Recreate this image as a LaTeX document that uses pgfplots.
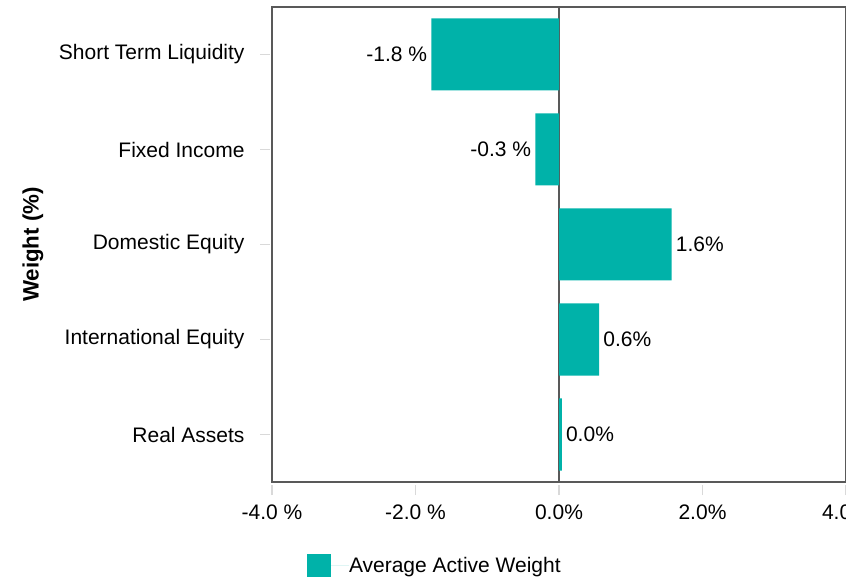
\documentclass[border=0pt]{standalone}
\usepackage{pgfplots}
\pgfplotsset{compat=1.18}
\usepackage{fontspec}
\setmainfont{Liberation Sans}
\definecolor{barteal}{HTML}{00B2A9}
\definecolor{axisgray}{HTML}{595959}
\definecolor{tickgray}{HTML}{D9D9D9}
\begin{document}
\begin{tikzpicture}
\begin{axis}[
  at={(272bp,95bp)}, anchor=south west,
  scale only axis, width=574bp, height=475bp,
  xbar, bar width=72bp, bar shift=0pt,
  xmin=-4, xmax=4, ymin=-0.5, ymax=4.5,
  xtick={-4,-2,0,2,4},
  xticklabels={{-4.0 \%},{-2.0 \%},{0.0\%},{2.0\%},{4.0\%}},
  ytick={0,1,2,3,4},
  yticklabels={Real Assets, International Equity, Domestic Equity, Fixed Income, Short Term Liquidity},
  xtick pos=bottom, ytick pos=left,
  tick align=outside, major tick length=10bp,
  xtick style={draw=tickgray, line width=1.5bp, yshift=-3bp},
  ytick style={draw=tickgray, line width=1.5bp, xshift=-2bp},
  axis line style={draw=axisgray, line width=2bp},
  ticklabel style={font=\fontsize{21bp}{25bp}\selectfont},
  xticklabel style={anchor=center, yshift=-20bp},
  yticklabel style={anchor=east, xshift=-14bp},
  extra x ticks={0}, extra x tick labels={},
  extra x tick style={grid=major, major grid style={draw=axisgray, line width=2bp}, major tick length=0pt},
  ylabel={\textbf{Weight (\%)}},
  ylabel style={font=\fontsize{22.3bp}{26bp}\selectfont, at={(axis description cs:-0.4164,0.5)}, anchor=center},
  legend style={at={(axis description cs:0.061,-0.1758)}, anchor=west, draw=none, fill=none,
    inner sep=0pt, outer sep=0pt, font=\fontsize{21bp}{25bp}\selectfont,
    nodes={inner xsep=0pt}},
  legend image code/.code={\fill[barteal] (0bp,-12bp) rectangle (24bp,12bp); \path (0bp,0bp) -- (42bp,0bp);},
  legend cell align=left,
  nodes near coords,
  point meta=x,
  nodes near coords style={font=\fontsize{21bp}{25bp}\selectfont, text=black, inner xsep=4bp},
]
\addplot[fill=barteal, draw=none,
  nodes near coords={\pgfmathprintnumber[fixed,fixed zerofill,precision=1,assume math mode=true]{\pgfplotspointmeta}\ \%},
  every node near coord/.append style={anchor=east}]
  coordinates {(-1.78,4) (-0.33,3)};
\addlegendentry{Average Active Weight}
\addplot[fill=barteal, draw=none, forget plot,
  nodes near coords={\pgfmathprintnumber[fixed,fixed zerofill,precision=1,assume math mode=true]{\pgfplotspointmeta}\%},
  every node near coord/.append style={anchor=west}]
  coordinates {(1.57,2) (0.56,1) (0.04,0)};
\end{axis}
\pgfresetboundingbox
\useasboundingbox (0,0) rectangle (846bp,577bp);
\end{tikzpicture}
\end{document}
